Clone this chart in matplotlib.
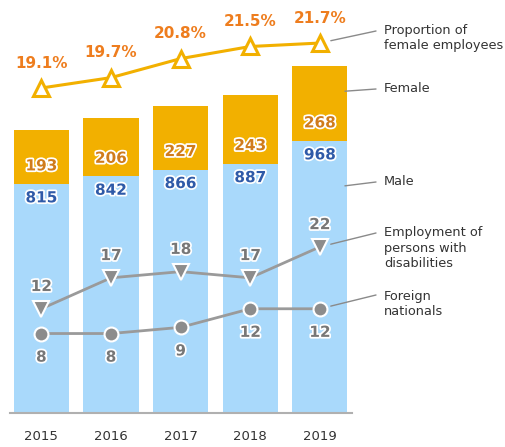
import matplotlib
matplotlib.use("Agg")
import matplotlib.pyplot as plt
import matplotlib.patheffects as pe

years = ["2015", "2016", "2017", "2018", "2019"]
male = [815, 842, 866, 887, 968]
female = [193, 206, 227, 243, 268]
female_pct = [19.1, 19.7, 20.8, 21.5, 21.7]
disabled = [12, 17, 18, 17, 22]
foreign = [8, 8, 9, 12, 12]

W, H = 506, 447
fig = plt.figure(figsize=(W / 100, H / 100), dpi=100)
ax = fig.add_axes([10 / W, 34 / H, 342 / W, 403 / H])

x = list(range(len(years)))
blue = "#a9d9fb"
gold = "#f2b000"
grey = "#9a9a9a"
halo = [pe.withStroke(linewidth=2.5, foreground="white")]

ax.bar(x, male, width=0.79, color=blue, zorder=2)
ax.bar(x, female, bottom=male, width=0.79, color=gold, zorder=2)
ax.set_xlim(-0.45, 4.46)
ax.set_ylim(0, 1434)
ax.set_xticks(x)
ax.set_xticklabels(years, fontsize=9.5, color="#333333")
ax.tick_params(axis="x", length=0, pad=12)
ax.set_yticks([])
for s in ["top", "left", "right"]:
    ax.spines[s].set_visible(False)
ax.spines["bottom"].set_color("#b0b0b0")
ax.spines["bottom"].set_linewidth(1.5)

for i in x:
    ax.annotate(str(female[i]), xy=(i, male[i]), xytext=(0, 13),
                textcoords="offset points", ha="center", va="center",
                fontsize=11, fontweight="bold", color="#d07c1c",
                path_effects=halo, zorder=3)
    ax.annotate(str(male[i]), xy=(i, male[i]), xytext=(0, -10),
                textcoords="offset points", ha="center", va="center",
                fontsize=11, fontweight="bold", color="#2f5aa8",
                path_effects=halo, zorder=3)

# proportion line
ax2 = ax.twinx()
ax2.set_ylim(0.31, 23.61)
ax2.axis("off")
ax2.plot(x, female_pct, color=gold, lw=2.2, marker="^", ms=12,
         mfc="white", mec=gold, mew=2.2)
for i in x:
    ax2.annotate(f"{female_pct[i]}%", xy=(i, female_pct[i]), xytext=(0, 18),
                 textcoords="offset points", ha="center", va="center",
                 fontsize=11, fontweight="bold", color="#ee7d1e")

# counts
ax3 = ax.twinx()
ax3.set_ylim(-4.84, 60.27)
ax3.axis("off")
ax3.plot(x, disabled, color=grey, lw=2, marker="v", ms=11,
         mfc="#8c8c8c", mec="white", mew=1.5)
ax3.plot(x, foreign, color=grey, lw=2, marker="o", ms=10,
         mfc="#8c8c8c", mec="white", mew=1.5)
for i in x:
    ax3.annotate(str(disabled[i]), xy=(i, disabled[i]), xytext=(0, 16),
                 textcoords="offset points", ha="center", va="center",
                 fontsize=11, fontweight="bold", color="#777777",
                 path_effects=halo)
    ax3.annotate(str(foreign[i]), xy=(i, foreign[i]), xytext=(0, -17),
                 textcoords="offset points", ha="center", va="center",
                 fontsize=11, fontweight="bold", color="#777777",
                 path_effects=halo)

# side labels with leader lines
labels = [
    ("Proportion of\nfemale employees", 38, (376, 31), ax2, (4, female_pct[4])),
    ("Female", 89, (376, 89), ax, (4.2, male[4] + female[4] * 0.65)),
    ("Male", 182, (376, 182), ax, (4.2, male[4] * 0.83)),
    ("Employment of\npersons with\ndisabilities", 248, (376, 233), ax3, (4, disabled[4])),
    ("Foreign\nnationals", 304, (376, 295), ax3, (4, foreign[4])),
]
for text, ty, (lx, ly), a, pt in labels:
    fig.text(384 / W, 1 - ty / H, text, fontsize=9.3, color="#333333",
             ha="left", va="center", linespacing=1.22)
    a.annotate("", xy=pt, xycoords="data", xytext=(lx, H - ly),
               textcoords="figure pixels",
               arrowprops=dict(arrowstyle="-", color="#8a8a8a", lw=1,
                               shrinkA=0, shrinkB=8))

fig.savefig("out.png", dpi=100)
